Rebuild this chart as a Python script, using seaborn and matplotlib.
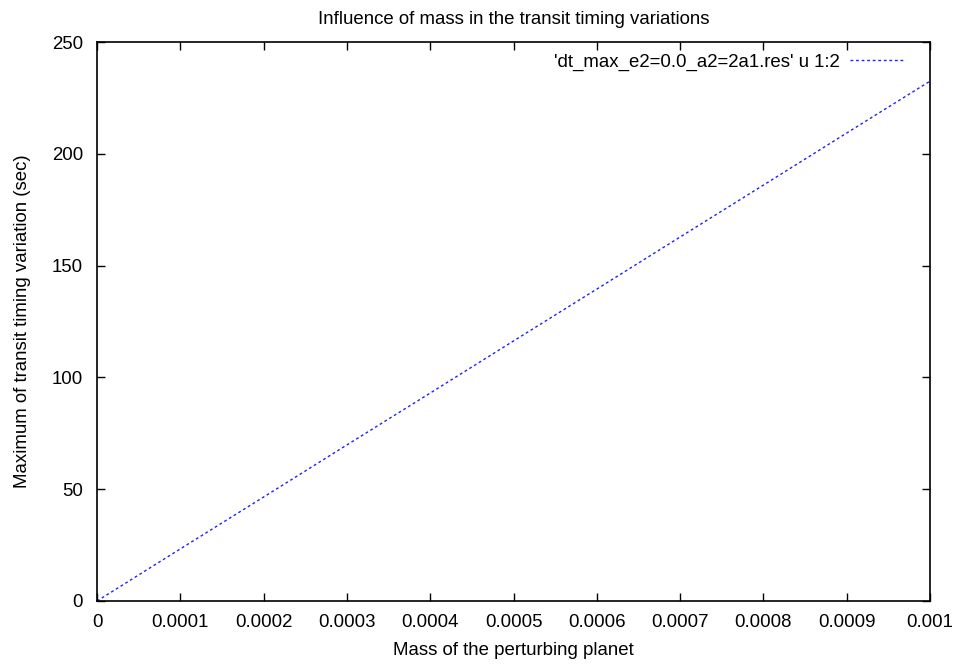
import matplotlib
matplotlib.use("Agg")
import matplotlib.pyplot as plt
import seaborn as sns
import pandas as pd

# Perturber mass vs. maximum TTV (seconds)
mass = [0.0, 0.0001, 0.0002, 0.0003, 0.0004, 0.0005, 0.0006, 0.0007, 0.0008, 0.0009, 0.001]
dt_max = [0.0, 23.3, 46.5, 69.8, 93.0, 116.3, 139.5, 162.8, 186.0, 209.3, 232.5]
x_ticks = [0, 0.0001, 0.0002, 0.0003, 0.0004, 0.0005, 0.0006, 0.0007, 0.0008, 0.0009, 0.001]
x_tick_labels = ["0", "0.0001", "0.0002", "0.0003", "0.0004", "0.0005", "0.0006", "0.0007", "0.0008", "0.0009", "0.001"]
y_ticks = [0, 50, 100, 150, 200, 250]
series_label = "'dt_max_e2=0.0_a2=2a1.res' u 1:2"

FS = 13.4

sns.set_theme(style="ticks")
plt.rcParams["font.family"] = ["Liberation Sans", "DejaVu Sans"]
plt.rcParams["text.color"] = "black"
plt.rcParams["axes.labelcolor"] = "black"
plt.rcParams["legend.labelcolor"] = "black"

df = pd.DataFrame({"mass": mass, "dt": dt_max})

fig = plt.figure(figsize=(9.56, 6.64), dpi=100)
ax = fig.add_axes([0.1015, 0.0949, 0.8713, 0.8418])

sns.lineplot(data=df, x="mass", y="dt", ax=ax, color="#1f1fff",
             linewidth=1.0, linestyle=(0, (2, 2)), label=series_label)

ax.set_xlim(0, 0.001)
ax.set_ylim(0, 250)
ax.set_xticks(x_ticks)
ax.set_xticklabels(x_tick_labels)
ax.set_yticks(y_ticks)
ax.tick_params(direction="in", length=5.8, width=1, top=True, right=True,
               labelsize=FS, colors="black")
ax.tick_params(axis="x", pad=9.5)
ax.tick_params(axis="y", pad=10)
for s in ax.spines.values():
    s.set_linewidth(1.2)
    s.set_color("black")

ax.set_xlabel("Mass of the perturbing planet", fontsize=FS, labelpad=7.5, color="black")
ax.set_ylabel("Maximum of transit timing variation (sec)", fontsize=FS, labelpad=15, color="black")
ax.set_title("Influence of mass in the transit timing variations", fontsize=FS, pad=13, color="black")

leg = ax.legend(loc="upper right", bbox_to_anchor=(0.976, 0.993), frameon=False,
                markerfirst=False, fontsize=FS, handlelength=2.8,
                borderaxespad=0, handletextpad=0.6, labelcolor="black")

fig.savefig("out.png", dpi=100)
